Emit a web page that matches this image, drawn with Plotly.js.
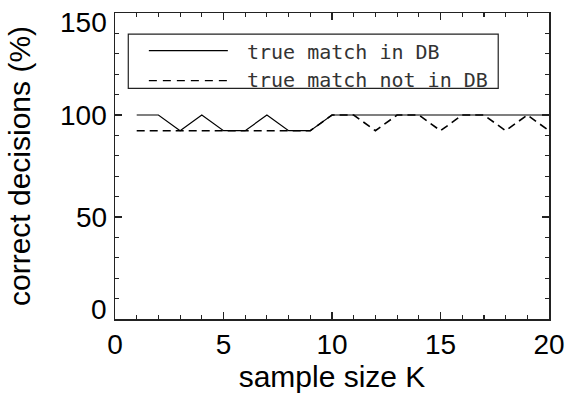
<!DOCTYPE html>
<html>
<head>
<meta charset="utf-8">
<script src="https://cdn.plot.ly/plotly-3.0.1.min.js"></script>
<style>html,body{margin:0;padding:0;background:#fff;}#chart{width:567px;height:396px;}</style>
</head>
<body>
<div id="chart"></div>
<script>
var sampleSizeK = [1,2,3,4,5,6,7,8,9,10,11,12,13,14,15,16,17,18,19,20];
var matchInDB =    [100,100,92.3,100,92.3,92.3,100,92.3,92.3,100,100,100,100,100,100,100,100,100,100,100];
var matchNotInDB = [92.3,92.3,92.3,92.3,92.3,92.3,92.3,92.3,92.3,100,100,92.3,100,100,92.3,100,100,92.3,100,92.3];
var seriesNames = ["true match in DB", "true match not in DB"];
var xTickVals = [0,5,10,15,20];
var yTickVals = [0,50,100,150];
var yTickLabelShift = [10, 0, 0, -9]; // label nudges (px), as in the reference

var traces = [
  {x: sampleSizeK, y: matchInDB, name: seriesNames[0], mode: 'lines', type: 'scatter',
   line: {color: '#000', width: 1.2}},
  {x: sampleSizeK, y: matchNotInDB, name: seriesNames[1], mode: 'lines', type: 'scatter',
   line: {color: '#000', width: 1.6, dash: '8px,5px'}}
];

var tickFont = {family: 'Liberation Sans, Arial, sans-serif', size: 28, color: '#000'};
var axisCommon = {
  showgrid: false, zeroline: false, showline: true, linecolor: '#222', linewidth: 1.5,
  mirror: 'ticks', ticks: 'inside', ticklen: 7, tickwidth: 1.2, tickcolor: '#222',
  tickfont: tickFont
};

var annotations = [
  {xref: 'paper', yref: 'paper', x: 0.2995, y: 0.872, xanchor: 'left', yanchor: 'middle',
   text: seriesNames[0], showarrow: false,
   font: {family: 'DejaVu Sans Mono, monospace', size: 20, color: '#333'}},
  {xref: 'paper', yref: 'paper', x: 0.2995, y: 0.78, xanchor: 'left', yanchor: 'middle',
   text: seriesNames[1], showarrow: false,
   font: {family: 'DejaVu Sans Mono, monospace', size: 20, color: '#333'}}
];
yTickVals.forEach(function (v, i) {
  annotations.push({xref: 'paper', yref: 'y', x: 0, y: v, xanchor: 'right', yanchor: 'middle',
    xshift: -6, yshift: yTickLabelShift[i], text: String(v), showarrow: false, font: tickFont});
});

var layout = {
  width: 567, height: 396,
  margin: {l: 115, r: 18, t: 13, b: 77},
  paper_bgcolor: '#fff', plot_bgcolor: '#fff',
  showlegend: false,
  xaxis: Object.assign({}, axisCommon, {
    range: [0, 20], tickvals: xTickVals, ticktext: xTickVals.map(String),
    minor: {dtick: 1, ticks: 'inside', ticklen: 4, tickwidth: 1.2, tickcolor: '#222'},
    title: {text: 'sample size K', font: {family: 'Liberation Sans, Arial, sans-serif', size: 30, color: '#000'}, standoff: 2}
  }),
  yaxis: Object.assign({}, axisCommon, {
    range: [0, 150], tickvals: yTickVals, showticklabels: false,
    minor: {dtick: 10, ticks: 'inside', ticklen: 4, tickwidth: 1.2, tickcolor: '#222'},
    title: {text: 'correct decisions (%)', font: {family: 'Liberation Sans, Arial, sans-serif', size: 30, color: '#000'}, standoff: 74}
  }),
  shapes: [
    {type: 'rect', xref: 'paper', yref: 'paper', x0: 0.0306, x1: 0.883, y0: 0.754, y1: 0.931,
     line: {color: '#222', width: 1.2}, fillcolor: 'rgba(0,0,0,0)'},
    {type: 'line', xref: 'paper', yref: 'paper', x0: 0.078, x1: 0.26, y0: 0.877, y1: 0.877,
     line: {color: '#000', width: 1.2}},
    {type: 'line', xref: 'paper', yref: 'paper', x0: 0.078, x1: 0.26, y0: 0.779, y1: 0.779,
     line: {color: '#000', width: 1.4, dash: '8px,6px'}}
  ],
  annotations: annotations
};

Plotly.newPlot('chart', traces, layout, {staticPlot: true, displayModeBar: false});
</script>
</body>
</html>
